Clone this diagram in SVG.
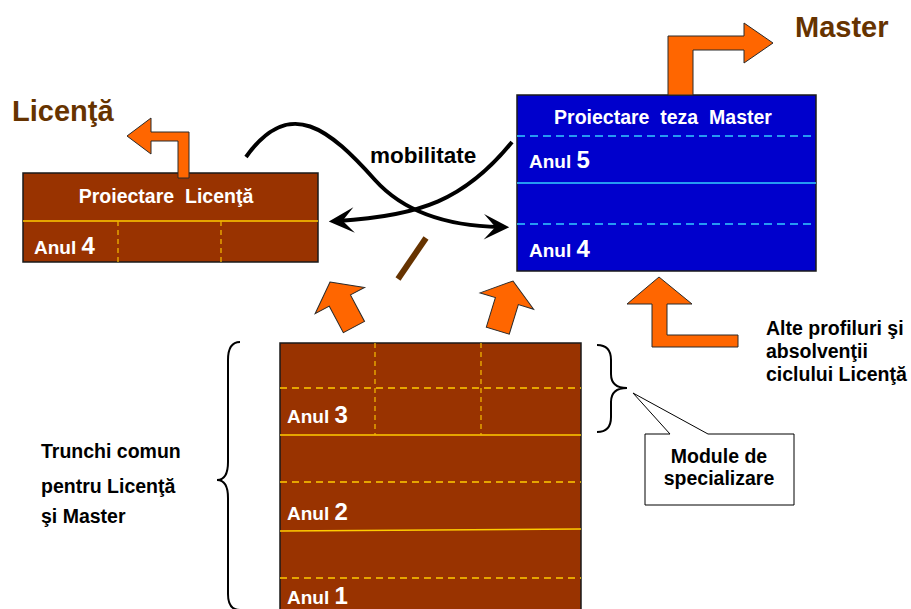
<svg xmlns="http://www.w3.org/2000/svg" width="911" height="609" viewBox="0 0 911 609">
  <defs>
    <style>
      text { font-family: "Liberation Sans", Arial, sans-serif; font-weight: bold; white-space: pre; }
      .title { font-size: 29px; fill: #663300; }
      .hdr { font-size: 19.5px; fill: #ffffff; text-anchor: middle; }
      .yr { font-size: 19px; fill: #ffffff; }
      .num { font-size: 24px; }
      .lbl { font-size: 19.5px; fill: #000000; }
      .brownbox { fill: #993300; stroke: #1a1a1a; stroke-width: 1.5; }
      .bluebox { fill: #0000cc; stroke: #1a1a1a; stroke-width: 1.5; }
      .gold { stroke: #ffcc00; stroke-width: 1.6; fill: none; }
      .golddash { stroke: #ffcc00; stroke-width: 1.3; stroke-dasharray: 7 5; fill: none; }
      .goldvdash { stroke: #f0b400; stroke-width: 1.3; stroke-dasharray: 5 4; fill: none; }
      .cyan { stroke: #33ccff; stroke-width: 1.6; fill: none; }
      .cyandash { stroke: #33ccff; stroke-width: 1.3; stroke-dasharray: 8 5; fill: none; }
      .bigarrow { fill: #ff6600; stroke: #2a2a2a; stroke-width: 1; stroke-linejoin: miter; }
      .flow { fill: none; stroke: #000000; stroke-width: 4; }
      .brace { fill: none; stroke: #000000; stroke-width: 2; }
    </style>
    <marker id="head" markerUnits="userSpaceOnUse" markerWidth="30" markerHeight="30" refX="0" refY="0" viewBox="-16 -13 26 26" orient="auto">
      <path d="M8,0 L-14,-11 L-4,0 L-14,11 Z" fill="#000000"/>
    </marker>
  </defs>

  <!-- Licenta title and box -->
  <g id="licenta-title">
    <text class="title" x="12" y="121">Licenţă</text>
  </g>
  <g id="licenta-box">
    <rect class="brownbox" x="23" y="173" width="295" height="89"/>
    <line class="gold" x1="23" y1="221" x2="318" y2="221"/>
    <line class="goldvdash" x1="118" y1="221" x2="118" y2="262"/>
    <line class="goldvdash" x1="221" y1="221" x2="221" y2="262"/>
    <text class="hdr" x="166" y="203">Proiectare  Licenţă</text>
    <text class="yr" x="34" y="254">Anul <tspan class="num">4</tspan></text>
  </g>

  <!-- Master title and box -->
  <g id="master-title">
    <text class="title" x="795" y="37">Master</text>
  </g>
  <g id="master-box">
    <rect class="bluebox" x="517" y="95" width="299" height="176"/>
    <line class="cyandash" x1="517" y1="136" x2="816" y2="136"/>
    <line class="cyan" x1="517" y1="183" x2="816" y2="183"/>
    <line class="cyandash" x1="517" y1="224" x2="816" y2="224"/>
    <text class="hdr" x="663" y="124">Proiectare  teza  Master</text>
    <text class="yr" x="529" y="168">Anul <tspan class="num">5</tspan></text>
    <text class="yr" x="529" y="257">Anul <tspan class="num">4</tspan></text>
  </g>

  <!-- Common trunk, years 1-3 -->
  <g id="trunk-box">
    <rect class="brownbox" x="280" y="343" width="301" height="275"/>
    <line class="golddash" x1="280" y1="388" x2="581" y2="388"/>
    <line class="gold" x1="280" y1="435" x2="581" y2="435"/>
    <line class="golddash" x1="280" y1="482" x2="581" y2="482"/>
    <line class="gold" x1="280" y1="531" x2="581" y2="529"/>
    <line class="golddash" x1="280" y1="578" x2="581" y2="578"/>
    <line class="goldvdash" x1="375" y1="343" x2="375" y2="435"/>
    <line class="goldvdash" x1="481" y1="343" x2="481" y2="435"/>
    <text class="yr" x="287" y="423">Anul <tspan class="num">3</tspan></text>
    <text class="yr" x="287" y="520">Anul <tspan class="num">2</tspan></text>
    <text class="yr" x="287" y="604">Anul <tspan class="num">1</tspan></text>
  </g>

  <!-- Trunk label with brace -->
  <g id="trunk-label">
    <path class="brace" d="M240,342 Q228,342 228,360 L228,462 Q228,480 217,480 Q228,480 228,498 L228,594 Q228,610 240,610"/>
    <text class="lbl" x="41" y="458">Trunchi comun</text>
    <text class="lbl" x="41" y="493">pentru Licenţă</text>
    <text class="lbl" x="41" y="523">şi Master</text>
  </g>

  <!-- Specialisation modules brace and callout -->
  <g id="modules-callout">
    <path class="brace" d="M597,345 Q611,345 611,360 L611,374 Q611,388 627,388 Q611,388 611,402 L611,417 Q611,432 597,432"/>
    <path d="M645,434 L670,434 L633,393 L708,434 L794,434 L794,505 L645,505 Z" fill="#ffffff" stroke="#000000" stroke-width="1"/>
    <text class="lbl" x="719" y="463" text-anchor="middle">Module de</text>
    <text class="lbl" x="719" y="485" text-anchor="middle">specializare</text>
  </g>

  <!-- Other profiles label -->
  <g id="other-profiles">
    <text class="lbl" x="766" y="335">Alte profiluri şi</text>
    <text class="lbl" x="766" y="358">absolvenţii</text>
    <text class="lbl" x="766" y="381">ciclului Licenţă</text>
  </g>

  <!-- Mobility label -->
  <g id="mobility-label">
    <text x="370" y="163" style="font-size:22.5px" fill="#000000">mobilitate</text>
  </g>

  <!-- Connectors -->
  <g id="connectors">
    <!-- exits to the labour market / next cycle -->
    <polygon class="bigarrow" points="127,136 151,118 151,132 189,132 189,178 178,178 178,141 151,141 151,154"/>
    <polygon class="bigarrow" points="668,95 668,36 744,36 744,23 773,43 744,63 744,50 693,50 693,95"/>
    <!-- entry from other profiles -->
    <polygon class="bigarrow" points="659,277 692,304 667,304 667,335 738,335 738,347 652,347 652,304 627,304"/>
    <!-- trunk to Licenta and to Master -->
    <polygon class="bigarrow" transform="translate(330,282) rotate(-28)" points="0,0 28,21 12,21 12,51 -12,51 -12,21 -28,21"/>
    <polygon class="bigarrow" transform="translate(513,281) rotate(17)" points="0,0 28,21 12,21 12,52 -12,52 -12,21 -28,21"/>
    <!-- separator stroke -->
    <line x1="426" y1="238" x2="398" y2="279" stroke="#663300" stroke-width="6"/>
    <!-- mobility curves -->
    <path class="flow" d="M246,157 C290,95 330,130 375,180 C402,210 445,226 500,227" marker-end="url(#head)"/>
    <path class="flow" d="M512,142 C465,200 420,216 338,221" marker-end="url(#head)"/>
  </g>
</svg>
